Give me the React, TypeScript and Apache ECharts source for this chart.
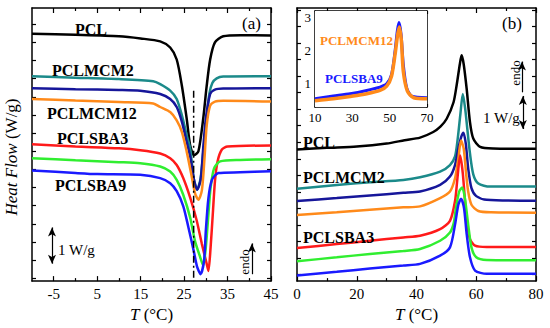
import React, { useEffect, useRef } from "react";
import * as echarts from "echarts";

const FONT = "'Liberation Serif','Times New Roman',Times,serif";

// ---- Panel (a): cooling, T (°C) vs heat flow (W/g, curves offset) ----
const leftPCL = [[-10,6.74],[0,6.71],[10,6.67],[15,6.61],[19.5,6.53],[21.8,6.36],[23.3,6.03],[24.5,5.30],[25.6,4.40],[26.4,3.66],[27.3,3.39],[28.3,3.50],[29.4,4.40],[30.2,5.30],[31,6.03],[32.1,6.50],[34,6.67],[38,6.70],[45,6.69]];
const leftMCM2 = [[-10,5.57],[0,5.53],[10,5.49],[17.9,5.43],[19.5,5.35],[21.8,5.17],[23.3,4.94],[24.5,4.49],[25.6,3.94],[26.4,3.58],[27.2,2.76],[28,2.44],[28.8,2.76],[29.5,3.58],[30.2,4.40],[30.8,5.08],[31.5,5.38],[32.5,5.51],[34,5.56],[45,5.57]];
const leftNavy = [[-10,5.24],[0,5.21],[10,5.19],[14.9,5.17],[19.5,5.08],[21.8,4.94],[23.3,4.72],[24.5,4.31],[25.6,3.76],[26.5,3.30],[27.3,2.70],[28,2.44],[28.8,2.70],[29.4,3.58],[30,4.40],[31,5.08],[32.1,5.20],[34,5.23],[45,5.24]];
const leftMCM12 = [[-10,4.94],[0,4.90],[10,4.86],[17.9,4.82],[19.5,4.72],[21.8,4.58],[23.3,4.35],[24.5,4.03],[25.6,3.49],[26.6,2.90],[27.5,2.35],[28.3,2.16],[29.1,2.43],[29.7,3.31],[30.2,4.21],[31,4.76],[32.1,4.87],[34,4.89],[45,4.87]];
const leftSBA3 = [[-10,3.69],[0,3.63],[10,3.58],[14.9,3.53],[19.5,3.44],[21.8,3.31],[23.3,3.12],[24.8,2.76],[26.4,2.22],[27.9,1.59],[29.1,0.94],[30.2,0.40],[30.6,0.20],[31.1,0.85],[31.6,1.76],[32.1,2.67],[32.7,3.22],[33.7,3.55],[35,3.63],[45,3.66]];
const leftGreen = [[-10,3.31],[0,3.25],[10,3.20],[14.9,3.17],[19.5,3.08],[21.8,2.94],[23.3,2.71],[24.8,2.30],[26.4,1.67],[27.5,1.03],[28.7,0.58],[29.4,0.35],[30,0.85],[30.6,1.76],[31.1,2.49],[31.9,3.03],[33.3,3.22],[37.9,3.26],[45,3.28]];
const leftSBA9 = [[-10,2.97],[0,2.90],[5,2.87],[14.9,2.85],[19.5,2.76],[21.8,2.62],[23.3,2.40],[24.8,1.99],[26,1.40],[27.2,0.76],[28,0.31],[28.8,0.11],[29.6,0.49],[30,1.31],[30.6,2.21],[31.4,2.71],[32.9,2.90],[37.9,2.92],[45,2.95]];
const leftDashDot = [[27.2,5.17],[27.2,-0.08]];
const leftScaleBar = [[-5.4,0.4],[-5.4,1.4]];
const leftEndoArrow = [[40.6,0.11],[40.6,0.96]];

// ---- Panel (b): heating ----
const rightPCL = [[0,3.78],[10,3.83],[20,3.87],[30,3.96],[36,4.06],[41.2,4.14],[45.6,4.31],[48,4.47],[50.1,4.71],[52.4,5.21],[53.5,5.76],[54.5,6.36],[55.1,6.63],[55.8,6.36],[56.8,5.61],[57.9,4.61],[59,4.11],[61.3,3.86],[65.7,3.81],[80,3.80]];
const rightMCM2 = [[0,2.59],[13.3,2.71],[24.4,2.79],[35.6,2.86],[41.2,2.94],[47.9,3.11],[51.2,3.31],[52.9,3.57],[53.8,4.11],[54.7,4.86],[55.5,5.46],[56.3,5.01],[57,4.41],[57.9,3.66],[59,3.03],[60.7,2.75],[64.6,2.66],[80,2.66]];
const rightNavy = [[0,2.22],[13.3,2.31],[24.4,2.39],[35.6,2.47],[41.2,2.51],[47.9,2.71],[51.2,2.96],[52.9,3.31],[54,3.81],[55,4.17],[55.7,4.29],[56.5,3.96],[57.3,3.21],[58.4,2.61],[60,2.37],[63.5,2.26],[80,2.23]];
const rightMCM12 = [[0,1.80],[13.3,1.88],[24.4,1.96],[35.6,2.03],[41.2,2.06],[47.9,2.31],[51.2,2.51],[52.9,2.91],[54,3.51],[54.9,4.05],[55.8,3.81],[56.6,3.06],[57.3,2.51],[58.4,2.11],[60.7,1.92],[65,1.88],[80,1.87]];
const rightSBA3 = [[0,0.80],[13.3,0.92],[24.4,1.02],[35.6,1.12],[41.2,1.17],[47.9,1.37],[51.2,1.62],[52.9,2.22],[53.7,2.91],[54.6,3.60],[55.5,3.06],[56.8,1.62],[57.9,1.07],[59.6,0.87],[63.5,0.83],[80,0.83]];
const rightGreen = [[0,0.40],[13.3,0.52],[24.4,0.62],[35.6,0.71],[41.2,0.77],[47.9,1.02],[51.2,1.27],[52.5,1.57],[53.2,2.01],[54.3,2.51],[55.3,2.63],[56.2,2.31],[57.3,1.51],[58.4,0.82],[60,0.52],[63.5,0.44],[80,0.43]];
const rightSBA9 = [[0,-0.03],[13.3,0.08],[24.4,0.18],[35.6,0.27],[41.2,0.32],[47.9,0.57],[51.2,0.82],[52.9,1.51],[54,2.11],[54.9,2.29],[55.9,2.01],[56.8,1.22],[57.9,0.52],[59.6,0.12],[63.5,0.02],[80,0.02]];
const rightEndoArrow = [[75.3,5.51],[75.3,6.44]];
const rightScaleBar = [[75.6,4.4],[75.6,5.4]];

// ---- Inset ----
const insetSBA9 = [[10,0.55],[19.8,0.63],[28.8,0.70],[37.7,0.80],[44.8,0.90],[48.4,1.0],[51,1.28],[52.9,1.99],[54.1,2.60],[55,2.85],[56.1,2.50],[57.3,1.58],[59.1,0.88],[61.8,0.63],[70,0.58]];
const insetMCM12 = [[10,0.49],[19.8,0.55],[28.8,0.62],[37.7,0.70],[44.8,0.80],[48.4,0.93],[51,1.23],[52.9,1.89],[54.3,2.50],[55.2,2.72],[56.3,2.29],[57.3,1.38],[59.5,0.78],[62.9,0.58],[70,0.55]];

// ---- ticks ----
const leftXLabels = [-5, 5, 15, 25, 35, 45];
const leftXMinor = [0, 10, 20, 30, 40];
const rightXLabels = [0, 20, 40, 60, 80];
const rightXMinor = [10, 30, 50, 70];
const insetXLabels = [10, 30, 50, 70];
const insetXTicks = [10, 20, 30, 40, 50, 60, 70];
const insetYLabels = [1, 2, 3];
const insetYTicks = [0.5, 1, 1.5, 2, 2.5, 3];
const leftYTicks = [0, 0.5, 1, 1.5, 2, 2.5, 3, 3.5, 4, 4.5, 5, 5.5, 6, 6.5, 7];
const rightYTicks = [0, 0.5, 1, 1.5, 2, 2.5, 3, 3.5, 4, 4.5, 5, 5.5, 6, 6.5, 7, 7.5, 8];

const C = {
  black: "#000000",
  teal: "#1b8a8a",
  navy: "#16169a",
  orange: "#ff8a1a",
  red: "#ff1a1a",
  green: "#30ee30",
  blue: "#1a1aff",
};

const AX_LINE = { show: true, onZero: false, lineStyle: { color: "#000", width: 1.5 } };
const NO_LINE = { show: false, onZero: false };

function xAxis(grid: number, pos: string, min: number, max: number, ticks: number[], len: number, labels?: number[], line = true, extra: any = {}) {
  return {
    type: "value", gridIndex: grid, position: pos, min, max,
    axisLine: line ? AX_LINE : NO_LINE,
    axisTick: { show: true, inside: true, length: len, customValues: ticks, lineStyle: { color: "#000", width: 1.2 } },
    axisLabel: labels
      ? { show: true, customValues: labels, color: "#000", fontFamily: FONT, fontSize: extra.fs || 15, margin: extra.margin ?? 5 }
      : { show: false },
    splitLine: { show: false },
    ...(extra.name ? {
      name: extra.name, nameLocation: "middle", nameGap: 19,
      nameTextStyle: { color: "#000", fontFamily: FONT, fontSize: 17, rich: { i: { fontStyle: "italic", fontFamily: FONT, fontSize: 17, color: "#000" }, n: { fontFamily: FONT, fontSize: 17, color: "#000" } } },
    } : {}),
  };
}
function yAxis(grid: number, pos: string, min: number, max: number, ticks: number[], len: number, labels?: number[]) {
  return {
    type: "value", gridIndex: grid, position: pos, min, max,
    axisLine: AX_LINE,
    axisTick: { show: true, inside: true, length: len, customValues: ticks, lineStyle: { color: "#000", width: 1.2 } },
    axisLabel: labels
      ? { show: true, customValues: labels, color: "#000", fontFamily: FONT, fontSize: 13, margin: 4 }
      : { show: false },
    splitLine: { show: false },
  };
}

function curve(name: string, data: number[][], color: string, xi: number, yi: number, width = 2.5) {
  return {
    type: "line", name, data, xAxisIndex: xi, yAxisIndex: yi,
    symbol: "none", showSymbol: false, smooth: 0.25, clip: true,
    lineStyle: { color, width }, itemStyle: { color }, silent: true,
  };
}

function arrowSeries(data: number[][], xi: number, yi: number, both: boolean) {
  return {
    type: "line", data, xAxisIndex: xi, yAxisIndex: yi, symbol: "none", silent: true,
    lineStyle: { opacity: 0 },
    markLine: {
      silent: true, animation: false,
      symbol: both ? ["arrow", "arrow"] : ["none", "arrow"],
      symbolSize: [6, 9],
      label: { show: false },
      lineStyle: { color: "#000", width: 1.2, type: "solid" },
      data: [[{ coord: data[0] }, { coord: data[1] }]],
    },
  };
}

function txt(x: number, y: number, text: string, opts: any = {}) {
  return {
    type: "text", x, y, rotation: opts.rotation || 0, silent: true, z: 100,
    style: {
      text, fill: opts.color || "#000", fontFamily: FONT,
      fontSize: opts.size || 16, fontWeight: opts.bold ? "bold" : "normal",
      align: opts.align || "left", verticalAlign: "middle",
      rich: opts.rich,
    },
  };
}

export default function App() {
  const ref = useRef<HTMLDivElement>(null);
  useEffect(() => {
    document.body.style.margin = "0";
    const chart = echarts.init(ref.current!, null, { renderer: "svg" });
    const option: any = {
      animation: false,
      backgroundColor: "#fff",
      grid: [
        { left: 32, top: 8, width: 239, height: 276 },
        { left: 297, top: 8, width: 239, height: 276 },
        { left: 315, top: 11, width: 112, height: 96, show: true, backgroundColor: "#fff", borderWidth: 0, z: 5 },
      ],
      xAxis: [
        xAxis(0, "bottom", -10, 45, leftXLabels, 5, leftXLabels, true, { name: "{i|T}{n| (°C)}" }),
        xAxis(0, "bottom", -10, 45, leftXMinor, 3, undefined, false),
        xAxis(0, "top", -10, 45, leftXLabels, 5),
        xAxis(0, "top", -10, 45, leftXMinor, 3, undefined, false),
        xAxis(1, "bottom", 0, 80, rightXLabels, 5, rightXLabels, true, { name: "{i|T}{n| (°C)}" }),
        xAxis(1, "bottom", 0, 80, rightXMinor, 3, undefined, false),
        xAxis(1, "top", 0, 80, rightXLabels, 5),
        xAxis(1, "top", 0, 80, rightXMinor, 3, undefined, false),
        xAxis(2, "bottom", 10, 70, insetXTicks, 3, insetXLabels, true, { fs: 13, margin: 4 }),
        xAxis(2, "top", 10, 70, insetXTicks, 3),
      ],
      yAxis: [
        yAxis(0, "left", -0.08, 7.45, leftYTicks, 4),
        yAxis(0, "right", -0.08, 7.45, leftYTicks, 4),
        yAxis(1, "left", -0.2, 8.06, rightYTicks, 4),
        yAxis(1, "right", -0.2, 8.06, rightYTicks, 4),
        yAxis(2, "left", 0.3, 3.2, insetYTicks, 3, insetYLabels),
        yAxis(2, "right", 0.3, 3.2, insetYTicks, 3),
      ],
      series: [
        curve("PCL", leftPCL, C.black, 0, 0),
        curve("PCLMCM2", leftMCM2, C.teal, 0, 0),
        curve("PCLMCM6", leftNavy, C.navy, 0, 0),
        curve("PCLMCM12", leftMCM12, C.orange, 0, 0),
        curve("PCLSBA3", leftSBA3, C.red, 0, 0),
        curve("PCLSBA6", leftGreen, C.green, 0, 0),
        curve("PCLSBA9", leftSBA9, C.blue, 0, 0),
        {
          type: "line", data: leftDashDot, xAxisIndex: 0, yAxisIndex: 0, symbol: "none", silent: true, z: 10,
          lineStyle: { color: "#000", width: 1.5, type: [7, 3, 2, 3] },
        },
        arrowSeries(leftScaleBar, 0, 0, true),
        arrowSeries(leftEndoArrow, 0, 0, false),

        curve("PCL", rightPCL, C.black, 4, 2),
        curve("PCLMCM2", rightMCM2, C.teal, 4, 2),
        curve("PCLMCM6", rightNavy, C.navy, 4, 2),
        curve("PCLMCM12", rightMCM12, C.orange, 4, 2),
        curve("PCLSBA3", rightSBA3, C.red, 4, 2),
        curve("PCLSBA6", rightGreen, C.green, 4, 2),
        curve("PCLSBA9", rightSBA9, C.blue, 4, 2),
        arrowSeries(rightEndoArrow, 4, 2, false),
        arrowSeries(rightScaleBar, 4, 2, true),

        { ...curve("PCLSBA9", insetSBA9, C.blue, 8, 4, 3), z: 6 },
        { ...curve("PCLMCM12", insetMCM12, C.orange, 8, 4, 3.5), z: 6 },
      ],
      graphic: [
        txt(11, 157, "{i|Heat Flow}{n| (W/g)}", {
          align: "center", rotation: Math.PI / 2,
          rich: {
            i: { fontStyle: "italic", fontFamily: FONT, fontSize: 17, fill: "#000" },
            n: { fontFamily: FONT, fontSize: 17, fill: "#000" },
          },
        }),
        txt(75, 29, "PCL", { bold: true }),
        txt(52, 70, "PCLMCM2", { bold: true }),
        txt(47, 113, "PCLMCM12", { bold: true }),
        txt(57, 138, "PCLSBA3", { bold: true }),
        txt(55, 185, "PCLSBA9", { bold: true }),
        txt(242, 23, "(a)", { size: 17 }),
        txt(58, 250, "1 W/g", { size: 15 }),
        txt(244, 262, "endo", { size: 13, align: "center", rotation: Math.PI / 2 }),

        txt(303, 142, "PCL", { bold: true }),
        txt(303, 177, "PCLMCM2", { bold: true }),
        txt(303, 237, "PCLSBA3", { bold: true }),
        txt(502, 23, "(b)", { size: 17 }),
        txt(515, 73, "endo", { size: 13, align: "center", rotation: Math.PI / 2 }),
        txt(483, 118, "1 W/g", { size: 15 }),

        txt(320, 40, "PCLMCM12", { bold: true, size: 13, color: C.orange }),
        txt(325, 78, "PCLSBA9", { bold: true, size: 13, color: C.blue }),
      ],
    };
    chart.setOption(option);
    return () => chart.dispose();
  }, []);
  return <div ref={ref} style={{ width: 550, height: 328 }} />;
}
